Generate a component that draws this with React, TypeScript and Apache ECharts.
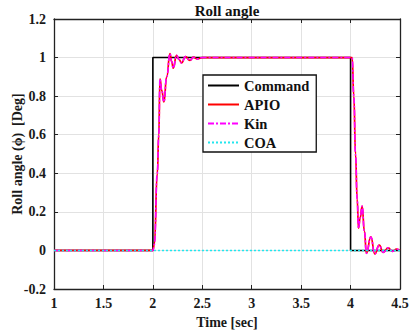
import React, { useEffect, useRef } from "react";
import * as echarts from "echarts";

// Time axis ticks and value ticks
const xTicks = [1, 1.5, 2, 2.5, 3, 3.5, 4, 4.5];
const yTicks = [-0.2, 0, 0.2, 0.4, 0.6, 0.8, 1, 1.2];

// Command (step input)
const commandTime = [1, 2, 2, 4, 4, 4.5];
const commandValue = [0, 0, 1, 1, 0, 0];

// APIO response
const apioTime = [
  1, 2.0, 2.015, 2.045, 2.06, 2.072, 2.09, 2.112, 2.14, 2.173, 2.19, 2.206, 2.24, 2.265, 2.29, 2.33,
  2.375, 2.41, 2.45, 2.5, 4.016, 4.033, 4.05, 4.067, 4.08, 4.097, 4.117, 4.14, 4.16, 4.205, 4.245,
  4.29, 4.33, 4.38, 4.425, 4.465, 4.5,
];
const apioValue = [
  0, 0, 0.03, 0.4, 0.6, 0.89, 0.83, 0.77, 0.9, 1.02, 0.98, 0.945, 1.012, 0.99, 0.972, 1.005, 0.985,
  1.002, 0.993, 1.0, 1.0, 0.8, 0.5, 0.265, 0.115, 0.17, 0.23, 0.1, -0.015, 0.07, -0.018, 0.027,
  -0.01, 0.013, -0.005, 0.007, 0,
];

// Kin response overlaps APIO in the picture
const kinTime = apioTime;
const kinValue = apioValue;

// COA stays at zero
const coaTime = [1, 4.5];
const coaValue = [0, 0];

const seriesNames = ["Command", "APIO", "Kin", "COA"];

const zip = (t: number[], v: number[]) => t.map((x, i) => [x, v[i]]);

const FONT = "'Liberation Serif', 'Times New Roman', serif";

export default function App() {
  const ref = useRef<HTMLDivElement>(null);

  useEffect(() => {
    document.body.style.margin = "0";
    if (!ref.current) return;
    const chart = echarts.init(ref.current, undefined, { renderer: "svg" });
    const fmt = (v: number) => String(Number(v.toFixed(2)));
    const labelStyle = {
      fontFamily: FONT,
      fontWeight: "bold" as const,
      fontSize: 14,
      color: "#1a1a1a",
    };
    const tickStyle = { show: true, inside: true, length: 4, lineStyle: { color: "#222", width: 1 } };
    const lineAxis = { show: true, onZero: false, lineStyle: { color: "#222", width: 1.3 } };
    chart.setOption({
      animation: false,
      backgroundColor: "#ffffff",
      title: {
        text: "Roll angle",
        left: 227,
        top: 3,
        padding: 0,
        textAlign: "center",
        textStyle: { fontFamily: FONT, fontWeight: "bold", fontSize: 15, color: "#111" },
      },
      grid: { left: 54, right: 10, top: 19, bottom: 45, containLabel: false, outerBoundsMode: "none" },
      legend: {
        data: seriesNames,
        orient: "vertical",
        left: 203,
        top: 75,
        padding: [3, 7, 2, 4],
        itemWidth: 31,
        itemHeight: 14,
        itemGap: 4,
        backgroundColor: "#ffffff",
        borderColor: "#111",
        borderWidth: 1.3,
        borderRadius: 0,
        itemStyle: { opacity: 0, borderWidth: 0 },
        textStyle: { fontFamily: FONT, fontWeight: "bold", fontSize: 14.5, color: "#111" },
      },
      xAxis: [
        {
          type: "value",
          min: xTicks[0],
          max: xTicks[xTicks.length - 1],
          interval: 0.5,
          position: "bottom",
          name: "Time [sec]",
          nameLocation: "middle",
          nameGap: 26,
          nameMoveOverlap: false,
          nameTextStyle: { ...labelStyle },
          axisLine: lineAxis,
          axisTick: tickStyle,
          axisLabel: { ...labelStyle, margin: 7, formatter: fmt },
          splitLine: { show: true, lineStyle: { color: "#e2e2e2", width: 1 } },
        },
        {
          type: "value",
          min: xTicks[0],
          max: xTicks[xTicks.length - 1],
          interval: 0.5,
          position: "top",
          axisLine: lineAxis,
          axisTick: tickStyle,
          axisLabel: { show: false },
          splitLine: { show: false },
        },
      ],
      yAxis: [
        {
          type: "value",
          min: yTicks[0],
          max: yTicks[yTicks.length - 1],
          interval: 0.2,
          position: "left",
          name: "Roll angle (ϕ)  [Deg]",
          nameLocation: "middle",
          nameGap: 30,
          nameMoveOverlap: false,
          nameTextStyle: { ...labelStyle },
          axisLine: lineAxis,
          axisTick: tickStyle,
          axisLabel: { ...labelStyle, margin: 8, formatter: fmt },
          splitLine: { show: true, lineStyle: { color: "#e2e2e2", width: 1 } },
        },
        {
          type: "value",
          min: yTicks[0],
          max: yTicks[yTicks.length - 1],
          interval: 0.2,
          position: "right",
          axisLine: lineAxis,
          axisTick: tickStyle,
          axisLabel: { show: false },
          splitLine: { show: false },
        },
      ],
      series: [
        {
          name: "Command",
          type: "line",
          data: zip(commandTime, commandValue),
          symbol: "none",
          itemStyle: { color: "#000000" },
          lineStyle: { color: "#000000", width: 1.6 },
          z: 2,
        },
        {
          name: "APIO",
          type: "line",
          data: zip(apioTime, apioValue),
          symbol: "none",
          smooth: 0.5,
          smoothMonotone: "x",
          itemStyle: { color: "#ff0000" },
          lineStyle: { color: "#ff0000", width: 1.7 },
          z: 3,
        },
        {
          name: "Kin",
          type: "line",
          data: zip(kinTime, kinValue),
          symbol: "none",
          smooth: 0.5,
          smoothMonotone: "x",
          itemStyle: { color: "#ff00ff" },
          lineStyle: { color: "#ff00ff", width: 1.6, type: [6, 2, 2, 2] },
          z: 4,
        },
        {
          name: "COA",
          type: "line",
          data: zip(coaTime, coaValue),
          symbol: "none",
          itemStyle: { color: "#00e5ee" },
          lineStyle: { color: "#22e6ee", width: 1.5, type: [2, 2] },
          z: 5,
        },
      ],
    });
    return () => chart.dispose();
  }, []);

  return (
    <div style={{ position: "absolute", left: 0, top: 0 }}>
      <div ref={ref} style={{ width: 410, height: 334 }} />
    </div>
  );
}
